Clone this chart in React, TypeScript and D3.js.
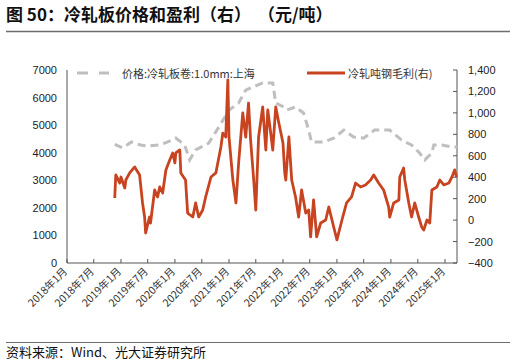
import React from "react";
import * as d3 from "d3";

const priceDates = ["2018-11-20","2019-01-13","2019-03-13","2019-05-13","2019-07-01","2019-09-20","2019-11-13","2020-01-07","2020-03-07","2020-04-10","2020-05-20","2020-08-17","2020-10-24","2021-01-01","2021-03-07","2021-04-24","2021-06-10","2021-08-17","2021-10-24","2021-11-13","2022-01-07","2022-01-27","2022-03-27","2022-05-20","2022-06-24","2022-07-13","2022-10-04","2022-12-10","2023-02-17","2023-04-24","2023-07-01","2023-09-13","2023-12-24","2024-03-13","2024-05-20","2024-07-13","2024-08-17","2024-10-04","2024-10-17","2024-12-10","2025-02-17","2025-03-24"];
const priceValues = [4300,4170,4390,4280,4240,4280,4390,4530,4280,3740,4100,4350,4930,5550,5800,6270,6380,6530,6530,5800,5660,5550,5660,5440,4820,4390,4390,4530,4820,4570,4530,4820,4820,4460,4280,3990,3740,3990,4280,4280,4210,4210];

const profitDates = ["2018-11-20","2018-11-27","2018-12-24","2019-01-01","2019-01-27","2019-02-03","2019-03-01","2019-04-04","2019-05-07","2019-05-27","2019-06-10","2019-06-17","2019-07-13","2019-07-20","2019-08-17","2019-09-06","2019-09-20","2019-10-10","2019-11-01","2019-11-27","2019-12-17","2020-01-01","2020-01-07","2020-02-03","2020-02-10","2020-03-13","2020-03-27","2020-05-01","2020-05-20","2020-06-10","2020-07-07","2020-07-27","2020-09-01","2020-10-04","2020-11-07","2020-11-20","2020-12-10","2020-12-24","2021-01-01","2021-01-27","2021-02-17","2021-03-07","2021-04-04","2021-04-24","2021-05-13","2021-05-27","2021-06-17","2021-07-01","2021-07-20","2021-08-17","2021-09-07","2021-09-20","2021-10-10","2021-10-24","2021-11-13","2021-12-04","2022-01-01","2022-01-13","2022-01-20","2022-02-10","2022-03-01","2022-03-27","2022-04-17","2022-05-07","2022-06-04","2022-06-24","2022-07-07","2022-07-27","2022-08-17","2022-09-13","2022-10-17","2022-11-07","2022-12-10","2023-01-01","2023-02-04","2023-03-07","2023-04-10","2023-05-07","2023-06-10","2023-07-13","2023-08-17","2023-09-07","2023-10-10","2023-11-13","2023-12-17","2023-12-24","2024-01-20","2024-02-24","2024-03-01","2024-03-27","2024-04-04","2024-05-01","2024-05-20","2024-06-10","2024-07-07","2024-07-27","2024-08-10","2024-09-01","2024-09-20","2024-10-04","2024-11-07","2024-11-27","2024-12-24","2025-01-27","2025-02-17","2025-03-07","2025-03-20"];
const profitValues = [206,421,346,402,300,374,440,496,421,160,29,-120,29,-27,281,216,309,253,468,561,626,533,626,654,440,374,66,29,160,29,94,216,402,440,682,812,775,1307,775,374,160,533,999,775,1092,747,374,94,775,1055,654,1027,812,654,1055,906,719,440,374,775,374,216,29,281,66,94,-157,188,-157,-27,1,122,-64,-185,1,160,216,346,309,328,374,421,346,281,122,29,160,188,402,486,374,160,29,160,29,-64,-92,1,-27,281,309,374,328,346,402,468,402];

const leftTicks = [0,1000,2000,3000,4000,5000,6000,7000];
const rightTicks = [-400,-200,0,200,400,600,800,1000,1200,1400];
const xTickDates = ["2018-01-01","2018-07-01","2019-01-01","2019-07-01","2020-01-01","2020-07-01","2021-01-01","2021-07-01","2022-01-01","2022-07-01","2023-01-01","2023-07-01","2024-01-01","2024-07-01","2025-01-01"];
const xTickLabels = ["2018年1月","2018年7月","2019年1月","2019年7月","2020年1月","2020年7月","2021年1月","2021年7月","2022年1月","2022年7月","2023年1月","2023年7月","2024年1月","2024年7月","2025年1月"];

const titleA = "图 50：冷轧板价格和盈利（右）";
const titleB = "（元/吨）";
const source = "资料来源：Wind、光大证券研究所";
const priceName = "价格:冷轧板卷:1.0mm:上海";
const profitName = "冷轧吨钢毛利(右)";

const RED = "#C8431F";
const GREY = "#BFBFBF";
const FONT = "'Liberation Sans', Arial, 'Noto Sans CJK SC', sans-serif";
const CJK = "'Noto Sans CJK SC', 'Liberation Sans', sans-serif";

export default function App() {
  const W = 516, H = 364;
  const L = 67, R = 457, T = 70, B = 263;
  const parse = d3.timeParse("%Y-%m-%d");
  const x = d3.scaleTime()
    .domain([parse("2018-01-01")!, parse("2025-01-01")!])
    .range([L, 445]);
  const yL = d3.scaleLinear().domain([0, 7000]).range([B, T]);
  const yR = d3.scaleLinear().domain([-400, 1400]).range([B, T]);

  const price = priceDates.map((d, i) => ({ d: parse(d)!, v: priceValues[i] }));
  const profit = profitDates.map((d, i) => ({ d: parse(d)!, v: profitValues[i] }));

  const priceLine = d3.line<{ d: Date; v: number }>().x(p => x(p.d)).y(p => yL(p.v));
  const profitLine = d3.line<{ d: Date; v: number }>().x(p => x(p.d)).y(p => yR(p.v));
  const fmtR = d3.format(",");

  return (
    <svg width={W} height={H} style={{ position: "absolute", left: 0, top: 0, background: "#fff" }}>
      <text x={6} y={21} fontFamily={CJK} fontSize={17} fontWeight="bold" fill="#111">{titleA}</text>
      <text x={258} y={21} fontFamily={CJK} fontSize={17} fontWeight="bold" fill="#111">{titleB}</text>
      <line x1={6} x2={510} y1={31.5} y2={31.5} stroke="#6d6d6d" strokeWidth={1.5} />

      <line x1={L} x2={L} y1={T} y2={B} stroke="#555" strokeWidth={1} />
      <line x1={R} x2={R} y1={T} y2={B} stroke="#555" strokeWidth={1} />
      <line x1={L} x2={R} y1={B} y2={B} stroke="#555" strokeWidth={1} />

      {leftTicks.map(t => (
        <text key={"l" + t} x={57} y={yL(t) + 4} textAnchor="end" fontFamily={FONT} fontSize={11} fill="#222">{t}</text>
      ))}
      {rightTicks.map(t => (
        <g key={"r" + t}>
          <line x1={R - 4} x2={R} y1={yR(t)} y2={yR(t)} stroke="#555" />
          <text x={468} y={yR(t) + 4} fontFamily={FONT} fontSize={11} fill="#222">{fmtR(t)}</text>
        </g>
      ))}
      {xTickDates.map((d, i) => {
        const px = x(parse(d)!);
        return (
          <g key={"x" + d}>
            <line x1={px} x2={px} y1={B} y2={B - 4} stroke="#555" />
            <text transform={`translate(${px + 1},${B + 9}) rotate(-45)`} textAnchor="end" fontFamily={CJK} fontSize={10.5} fill="#333">{xTickLabels[i]}</text>
          </g>
        );
      })}

      <path d={priceLine(price) || ""} fill="none" stroke={GREY} strokeWidth={3} strokeDasharray="8,5" />
      <path d={profitLine(profit) || ""} fill="none" stroke={RED} strokeWidth={2.8} strokeLinejoin="round" />

      <line x1={77} x2={109} y1={73} y2={73} stroke={GREY} strokeWidth={3} strokeDasharray="11,11" />
      <text x={122} y={77.5} fontFamily={CJK} fontSize={11} fill="#333">{priceName}</text>
      <line x1={307} x2={345} y1={73} y2={73} stroke={RED} strokeWidth={3} />
      <text x={348} y={77.5} fontFamily={CJK} fontSize={11} fill="#333">{profitName}</text>

      <line x1={6} x2={510} y1={342.5} y2={342.5} stroke="#6d6d6d" strokeWidth={1} />
      <text x={6} y={357} fontFamily={CJK} fontSize={13} fill="#111">{source}</text>
    </svg>
  );
}
